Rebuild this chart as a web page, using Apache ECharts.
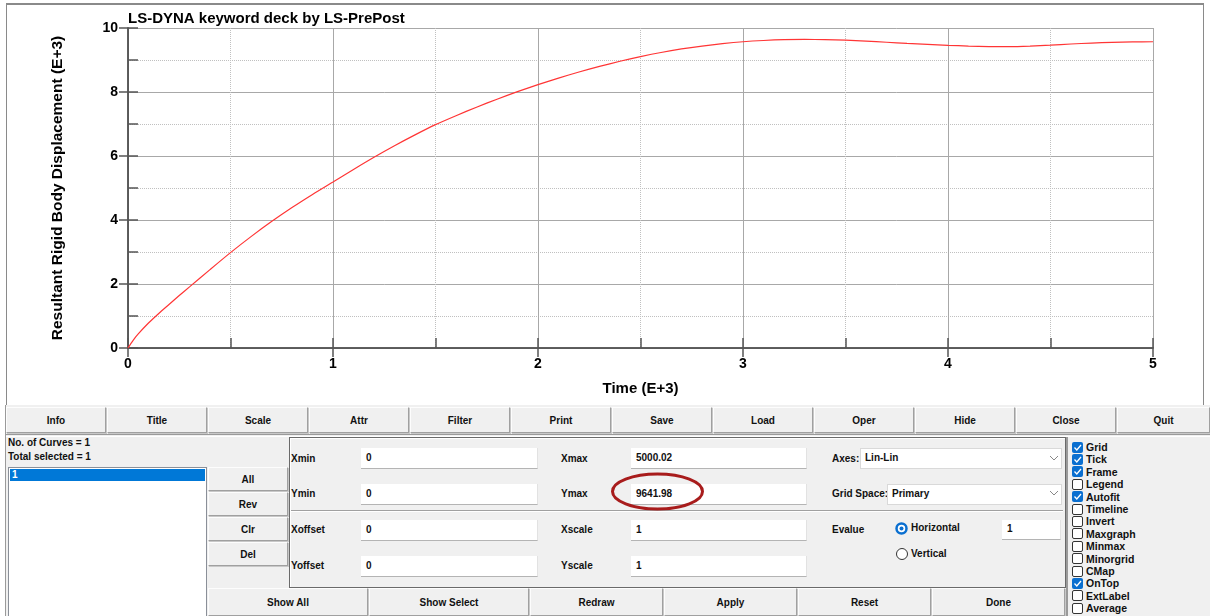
<!DOCTYPE html>
<html><head><meta charset="utf-8">
<script src="https://cdn.jsdelivr.net/npm/echarts@6/dist/echarts.min.js"></script>
<style>
body{margin:0;width:1210px;height:616px;position:relative;overflow:hidden;background:#fff;font-family:"Liberation Sans",Arial,sans-serif;}
#chart{position:absolute;left:0;top:0;width:1210px;height:406px;}
#frame{position:absolute;left:6px;top:3px;width:1196px;height:401px;border:1px solid #8a8a8a;border-top:2px solid #8a8a8a;pointer-events:none;}
#panel{position:absolute;left:5px;top:405px;width:1205px;height:211px;background:#f0f0f0;border-left:1px solid #9a9a9a;}
.a{position:absolute;box-sizing:border-box;}
.btn{position:absolute;box-sizing:border-box;background:#f0f0f0;border-top:1px solid #fdfdfd;border-left:1px solid #fdfdfd;border-right:1px solid #a0a0a0;border-bottom:1px solid #a0a0a0;box-shadow:1px 1px 0 #c8c8c8;font:bold 10px "Liberation Sans",Arial,sans-serif;color:#111;display:flex;align-items:center;justify-content:center;}
.lbl{position:absolute;font:bold 10px "Liberation Sans",Arial,sans-serif;color:#111;line-height:12px;white-space:nowrap;}
.inp{position:absolute;box-sizing:border-box;background:#fff;border-bottom:1px solid #b4b4b4;border-right:1px solid #e2e2e2;font:bold 10px "Liberation Sans",Arial,sans-serif;color:#111;padding-left:5px;display:flex;align-items:center;padding-bottom:2px;}
.cb{position:absolute;box-sizing:border-box;width:11px;height:11px;border-radius:2px;}
.cb.on{background:#0a6fd0;}
.cb.off{background:#fff;border:1px solid #333;}
</style>
</head><body>
<div id="chart"></div>
<div id="frame"></div>
<div id="panel"></div>
<script>
// ---- chart data (units: E+3) ----
const timeE3 = [0,0.025,0.05,0.1,0.15,0.2,0.25,0.3,0.4,0.5,0.6,0.7,0.8,0.9,1.0,1.1,1.2,1.3,1.4,1.5,1.6,1.7,1.8,1.9,2.0,2.1,2.2,2.3,2.4,2.5,2.6,2.7,2.8,2.9,3.0,3.1,3.2,3.3,3.4,3.5,3.6,3.7,3.8,3.9,4.0,4.1,4.2,4.3,4.4,4.5,4.6,4.7,4.8,4.9,5.0];
const dispE3 = [0,0.24,0.44,0.78,1.08,1.36,1.64,1.91,2.45,2.98,3.48,3.95,4.39,4.8,5.19,5.58,5.96,6.32,6.66,6.98,7.26,7.525,7.775,8.01,8.23,8.435,8.625,8.8,8.96,9.105,9.235,9.345,9.435,9.51,9.57,9.61,9.635,9.642,9.638,9.62,9.59,9.555,9.52,9.49,9.46,9.435,9.42,9.418,9.435,9.465,9.5,9.53,9.55,9.565,9.57];
const chartTitle = 'LS-DYNA keyword deck by LS-PrePost';
const xName = 'Time (E+3)';
const yName = 'Resultant Rigid Body Displacement (E+3)';

// ---- panel texts ----
const topButtons = ['Info','Title','Scale','Attr','Filter','Print','Save','Load','Oper','Hide','Close','Quit'];
const bottomButtons = ['Show All','Show Select','Redraw','Apply','Reset','Done'];
const checkNames = ['Grid','Tick','Frame','Legend','Autofit','Timeline','Invert','Maxgraph','Minmax','Minorgrid','CMap','OnTop','ExtLabel','Average'];
const checkOn = [true,true,true,false,true,false,false,false,false,false,false,true,false,false];

const FONT = 'Liberation Sans';
const ax = '#555';
const pairs = timeE3.map((t,i)=>[t, dispE3[i]]);
const chart = echarts.init(document.getElementById('chart'), null, {renderer:'canvas'});
const lblStyle = {fontFamily:FONT, fontWeight:'bold', fontSize:14, color:'#000'};
const hiddenBase = {type:'value', axisLabel:{show:false}, splitLine:{show:false}, minorSplitLine:{show:false}};
chart.setOption({
  animation:false,
  title:{text:chartTitle, left:128, top:11, padding:0, textStyle:{fontFamily:FONT, fontWeight:'bold', fontSize:15, color:'#000'}},
  grid:{left:128, top:28, width:1025, height:320, show:false},
  xAxis:[
    {type:'value', min:0, max:5, interval:1, position:'bottom',
     name:xName, nameLocation:'middle', nameGap:33, nameTextStyle:{fontFamily:FONT, fontWeight:'bold', fontSize:15, color:'#000'},
     axisLine:{show:true, lineStyle:{color:ax, width:1.5}},
     axisTick:{show:true, inside:true, length:10, lineStyle:{color:ax, width:1.5}},
     minorTick:{show:true, splitNumber:2, length:10, lineStyle:{color:ax, width:1.5}},
     splitLine:{show:true, lineStyle:{color:'#a8a8a8', width:1}},
     minorSplitLine:{show:true, lineStyle:{color:'#c0c0c0', width:1, type:[1,1]}},
     axisLabel:Object.assign({margin:9}, lblStyle)},
    Object.assign({}, hiddenBase, {min:0, max:5, interval:1, position:'bottom', axisLine:{show:false}, axisTick:{show:true, inside:false, length:9, lineStyle:{color:ax, width:1.5}}}),
    Object.assign({}, hiddenBase, {min:0, max:5, interval:1, position:'top', axisLine:{show:true, lineStyle:{color:ax, width:1.5}}, axisTick:{show:true, inside:true, length:9, lineStyle:{color:ax, width:1.5}}})
  ],
  yAxis:[
    {type:'value', min:0, max:10, interval:2, position:'left',
     name:yName, nameLocation:'middle', nameGap:62, nameRotate:90, nameTextStyle:{fontFamily:FONT, fontWeight:'bold', fontSize:15.5, color:'#000'},
     axisLine:{show:true, lineStyle:{color:ax, width:1.5}},
     axisTick:{show:true, inside:true, length:10, lineStyle:{color:ax, width:1.5}},
     minorTick:{show:true, splitNumber:2, length:10, lineStyle:{color:ax, width:1.5}},
     splitLine:{show:true, lineStyle:{color:'#a8a8a8', width:1}},
     minorSplitLine:{show:true, lineStyle:{color:'#c0c0c0', width:1, type:[1,1]}},
     axisLabel:Object.assign({margin:10}, lblStyle)},
    Object.assign({}, hiddenBase, {min:0, max:10, interval:2, position:'left', axisLine:{show:false}, axisTick:{show:true, inside:false, length:8, lineStyle:{color:ax, width:1.5}}}),
    Object.assign({}, hiddenBase, {min:0, max:10, interval:2, position:'right', axisLine:{show:true, lineStyle:{color:ax, width:1.5}}, axisTick:{show:true, inside:true, length:9, lineStyle:{color:ax, width:1.5}}})
  ],
  series:[{type:'line', xAxisIndex:0, yAxisIndex:0, data:pairs, showSymbol:false, smooth:0.25,
    lineStyle:{color:'#ff3535', width:1.2}}]
});

// ---- panel (HTML UI) ----
const body = document.body;
function add(cls, x, y, w, h, text, extra){
  const d = document.createElement('div');
  d.className = cls;
  d.style.left = x+'px'; d.style.top = y+'px';
  if (w!=null) d.style.width = w+'px';
  if (h!=null) d.style.height = h+'px';
  if (text!=null) d.textContent = text;
  if (extra) Object.assign(d.style, extra);
  body.appendChild(d);
  return d;
}
// top button row
topButtons.forEach((t,i)=>{
  const x = 6 + i*101;
  const w = i===topButtons.length-1 ? 1210-x : 100;
  add('btn', x, 407, w, 26, t);
});
// separator under buttons
add('a', 6, 434, 1204, 3, null, {borderTop:'1px solid #9a9a9a', borderBottom:'1px solid #fff'});
// left texts
add('lbl', 8, 437, null, null, 'No. of Curves = 1');
add('lbl', 8, 451, null, null, 'Total selected = 1');
// list box
add('a', 8, 467, 199, 152, null, {background:'#fff', border:'1px solid #8a8f98'});
add('a', 10, 469, 195, 12, null, {background:'#0078d7'});
add('lbl', 12, 469, null, null, '1', {color:'#fff'});
// All/Rev/Clr/Del
[['All',467],['Rev',492],['Clr',517],['Del',542]].forEach(b=>add('btn', 208, b[1], 80, 24, b[0]));
// group box
add('a', 289, 437, 777, 151, null, {border:'1px solid #6a6a6a', boxShadow:'inset 1px 1px 0 #fff'});
add('a', 291, 510, 772, 2, null, {borderTop:'1px solid #a0a0a0', borderBottom:'1px solid #fff'});
// rows
const rowsY = [[459,448],[494,484],[530,520],[566,556]];
['Xmin','Ymin','Xoffset','Yoffset'].forEach((t,i)=>{
  add('lbl', 291, rowsY[i][0]-6, null, null, t);
  add('inp', 361, rowsY[i][1], 177, 21, '0');
});
const rightVals = ['5000.02','9641.98','1','1'];
['Xmax','Ymax','Xscale','Yscale'].forEach((t,i)=>{
  add('lbl', 561, rowsY[i][0]-6, null, null, t);
  add('inp', 631, rowsY[i][1], 176, 21, rightVals[i]);
});
// Axes / Grid Space selects
add('lbl', 832, 453, null, null, 'Axes:');
add('inp', 860, 448, 202, 21, 'Lin-Lin', {paddingLeft:'4px', border:'1px solid #d9d9d9'});
add('lbl', 832, 488, null, null, 'Grid Space:');
add('inp', 887, 484, 175, 21, 'Primary', {paddingLeft:'4px', border:'1px solid #d9d9d9'});
// Evalue + radios
add('lbl', 832, 524, null, null, 'Evalue');
add('lbl', 911, 522, null, null, 'Horizontal');
add('lbl', 911, 548, null, null, 'Vertical');
add('inp', 1002, 520, 59, 20, '1');
// checkbox column
add('a', 1066, 437, 2, 179, null, {background:'#9a9a9a'});
checkNames.forEach((n,i)=>{
  const yc = 447 + i*12.4;
  add('cb '+(checkOn[i]?'on':'off'), 1072, Math.round(yc-5.5), null, null, null);
  add('lbl', 1086, Math.round(yc-6), null, null, n, {fontSize:'10.5px'});
});
// bottom buttons
[[208,160],[369,160],[530,133],[664,133],[798,133],[932,133]].forEach((p,i)=>add('btn', p[0], 588, p[1], 28, bottomButtons[i]));

// svg overlay for decorations (check marks, radio buttons, chevrons, red ellipse)
const ns = 'http://www.w3.org/2000/svg';
const svg = document.createElementNS(ns, 'svg');
svg.setAttribute('width', 1210); svg.setAttribute('height', 616);
svg.style.position='absolute'; svg.style.left='0'; svg.style.top='0'; svg.style.pointerEvents='none';
function s(tag, attrs){ const e=document.createElementNS(ns, tag); for(const k in attrs) e.setAttribute(k, attrs[k]); svg.appendChild(e); return e; }
checkNames.forEach((n,i)=>{
  if(!checkOn[i]) return;
  const yc = Math.round(447 + i*12.4 - 5.5);
  s('polyline', {points:`${1074.5},${yc+5.5} ${1076.8},${yc+8} ${1081},${yc+3}`, fill:'none', stroke:'#fff', 'stroke-width':1.3});
});
// radios
s('circle', {cx:901.5, cy:528.5, r:5, fill:'#fff', stroke:'#0a6fd0', 'stroke-width':2.5});
s('circle', {cx:901.5, cy:528.5, r:2, fill:'#0a6fd0'});
s('circle', {cx:902, cy:554, r:5.5, fill:'#fff', stroke:'#333', 'stroke-width':1});
// chevrons
[[1054,458],[1054,493]].forEach(c=>s('polyline', {points:`${c[0]-4},${c[1]-2} ${c[0]},${c[1]+2} ${c[0]+4},${c[1]-2}`, fill:'none', stroke:'#888', 'stroke-width':1}));
// red ellipse
s('ellipse', {cx:657.5, cy:491.5, rx:45, ry:17.5, fill:'none', stroke:'#a81c1c', 'stroke-width':3});
body.appendChild(svg);
</script>
</body></html>
